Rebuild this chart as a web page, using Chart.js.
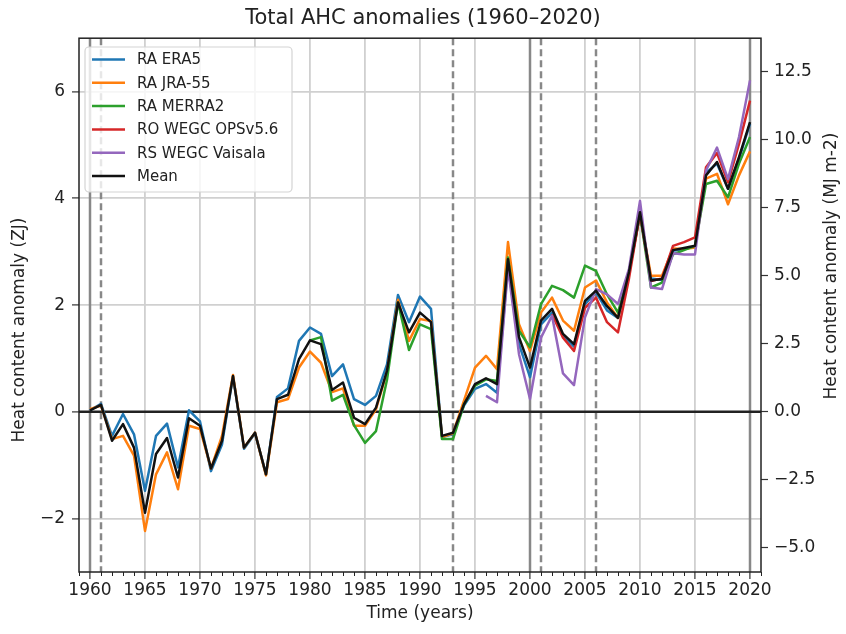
<!DOCTYPE html>
<html lang="en">
<head>
  <meta charset="UTF-8" />
  <title>Total AHC anomalies (1960–2020)</title>
  <script src="https://cdn.jsdelivr.net/npm/chart.js"></script>
  <style>
    html, body { margin: 0; padding: 0; background: #fff; }
    #wrap { width: 846px; height: 634px; }
  </style>
</head>
<body>
<div id="wrap"><canvas id="ahcChart" width="846" height="634"></canvas></div>
<script>
  // yearly anomalies in ZJ
  const years = [1960, 1961, 1962, 1963, 1964, 1965, 1966, 1967, 1968, 1969,
    1970, 1971, 1972, 1973, 1974, 1975, 1976, 1977, 1978, 1979,
    1980, 1981, 1982, 1983, 1984, 1985, 1986, 1987, 1988, 1989,
    1990, 1991, 1992, 1993, 1994, 1995, 1996, 1997, 1998, 1999,
    2000, 2001, 2002, 2003, 2004, 2005, 2006, 2007, 2008, 2009,
    2010, 2011, 2012, 2013, 2014, 2015, 2016, 2017, 2018, 2019,
    2020];

  const era5 = [0.03, 0.15, -0.45, -0.04, -0.42, -1.48, -0.45, -0.22, -1.04, 0.03,
    -0.18, -1.11, -0.61, 0.67, -0.69, -0.40, -1.17, 0.28, 0.44, 1.33,
    1.58, 1.46, 0.67, 0.89, 0.24, 0.13, 0.30, 0.89, 2.19, 1.68,
    2.16, 1.93, -0.47, -0.42, 0.12, 0.43, 0.52, 0.36, 2.75, 1.27,
    0.65, 1.64, 1.86, 1.43, 1.22, 2.02, 2.24, 1.90, 1.76, 2.62,
    3.70, 2.50, 2.47, 3.02, 3.05, 3.10, 4.48, 4.65, 4.18, 4.74,
    5.40];

  const jra55 = [0.05, 0.12, -0.51, -0.45, -0.82, -2.23, -1.17, -0.76, -1.45, -0.26,
    -0.32, -1.06, -0.45, 0.69, -0.67, -0.39, -1.19, 0.18, 0.24, 0.83,
    1.13, 0.92, 0.37, 0.44, -0.26, -0.26, 0.05, 0.75, 2.10, 1.33,
    1.74, 1.70, -0.47, -0.40, 0.21, 0.83, 1.05, 0.80, 3.18, 1.64,
    1.14, 1.86, 2.14, 1.71, 1.52, 2.33, 2.46, 2.05, 1.76, 2.60,
    3.70, 2.55, 2.55, 3.06, 3.05, 3.08, 4.37, 4.46, 3.89, 4.43,
    4.88];

  const merra2 = [null, null, null, null, null, null, null, null, null, null,
    null, null, null, null, null, null, null, null, null, null,
    1.34, 1.40, 0.21, 0.32, -0.25, -0.58, -0.36, 0.60, 2.05, 1.16,
    1.64, 1.55, -0.51, -0.51, 0.14, 0.49, 0.61, 0.58, 2.89, 1.52,
    1.21, 2.02, 2.36, 2.28, 2.14, 2.74, 2.64, 2.20, 1.86, 2.60,
    3.70, 2.33, 2.42, 2.95, 3.03, 3.11, 4.27, 4.33, 4.02, 4.65,
    5.15];

  const roOps = [null, null, null, null, null, null, null, null, null, null,
    null, null, null, null, null, null, null, null, null, null,
    null, null, null, null, null, null, null, null, null, null,
    null, null, null, null, null, null, null, null, null, null,
    null, null, 1.83, 1.39, 1.14, 1.95, 2.14, 1.68, 1.49, 2.50,
    3.72, 2.45, 2.50, 3.11, 3.18, 3.27, 4.58, 4.85, 4.30, 5.02,
    5.83];

  const rsVaisala = [null, null, null, null, null, null, null, null, null, null,
    null, null, null, null, null, null, null, null, null, null,
    null, null, null, null, null, null, null, null, null, null,
    null, null, null, null, null, null, 0.30, 0.18, 2.70, 1.08,
    0.24, 1.39, 1.80, 0.72, 0.50, 1.77, 2.30, 2.20, 2.02, 2.68,
    3.95, 2.33, 2.30, 2.97, 2.95, 2.95, 4.52, 4.95, 4.36, 5.15,
    6.21];

  const mean = [0.03, 0.13, -0.54, -0.23, -0.67, -1.89, -0.79, -0.49, -1.23, -0.12,
    -0.26, -1.06, -0.54, 0.67, -0.67, -0.39, -1.17, 0.24, 0.32, 0.99,
    1.34, 1.27, 0.41, 0.55, -0.11, -0.23, 0.08, 0.77, 2.05, 1.49,
    1.86, 1.68, -0.45, -0.39, 0.14, 0.52, 0.63, 0.52, 2.86, 1.40,
    0.83, 1.71, 1.93, 1.46, 1.27, 2.08, 2.27, 1.98, 1.76, 2.62,
    3.74, 2.46, 2.49, 3.03, 3.07, 3.11, 4.43, 4.68, 4.18, 4.77,
    5.43];

  const xTicks = [1960, 1965, 1970, 1975, 1980, 1985, 1990, 1995, 2000, 2005, 2010, 2015, 2020];
  const yTicks = [-2, 0, 2, 4, 6];
  const y2Ticks = [-5, -2.5, 0, 2.5, 5, 7.5, 10, 12.5];
  const solidYears = [1960, 2000, 2020];
  const dashedYears = [1961, 1993, 2001, 2006];
  const zjToMj = 1.961; // ZJ -> MJ m-2 over the globe

  const FONT = "'DejaVu Sans', sans-serif";
  const minus = v => (v < 0 ? '\u2212' : '');

  function series(label, vals, color, order) {
    return {
      label: label,
      data: years.map((yr, i) => ({ x: yr, y: vals[i] })),
      borderColor: color,
      backgroundColor: color,
      borderWidth: 2.5,
      pointRadius: 0,
      tension: 0,
      borderJoinStyle: 'round',
      spanGaps: false,
      order: order
    };
  }

  // extra bits matplotlib draws: year lines, zero line, frame, minor ticks, legend, right label
  const decor = {
    id: 'decor',
    beforeDatasetsDraw(chart) {
      const { ctx, chartArea: a } = chart;
      const xs = chart.scales.x, ys = chart.scales.y;
      ctx.save();
      ctx.beginPath();
      ctx.rect(a.left, a.top, a.right - a.left, a.bottom - a.top);
      ctx.clip();
      ctx.strokeStyle = '#888';
      ctx.lineWidth = 2.5;
      solidYears.forEach(yr => {
        const px = xs.getPixelForValue(yr);
        ctx.beginPath(); ctx.moveTo(px, a.top); ctx.lineTo(px, a.bottom); ctx.stroke();
      });
      ctx.setLineDash([7, 4]);
      dashedYears.forEach(yr => {
        const px = xs.getPixelForValue(yr);
        ctx.beginPath(); ctx.moveTo(px, a.top); ctx.lineTo(px, a.bottom); ctx.stroke();
      });
      ctx.setLineDash([]);
      const y0 = ys.getPixelForValue(0);
      ctx.strokeStyle = '#222';
      ctx.lineWidth = 2.5;
      ctx.beginPath(); ctx.moveTo(a.left, y0); ctx.lineTo(a.right, y0); ctx.stroke();
      ctx.restore();
    },
    afterDatasetsDraw(chart) {
      const { ctx } = chart;
      const bx = 85, by = 47, bw = 207, bh = 145;
      ctx.save();
      ctx.beginPath();
      ctx.roundRect(bx, by, bw, bh, 4);
      ctx.fillStyle = 'rgba(255,255,255,0.8)';
      ctx.fill();
      ctx.strokeStyle = '#d4d4d4';
      ctx.lineWidth = 1.2;
      ctx.stroke();
      ctx.font = '15px ' + FONT;
      ctx.textBaseline = 'middle';
      chart.data.datasets.forEach((ds, i) => {
        const ry = 59.5 + i * 23.3;
        ctx.strokeStyle = ds.borderColor;
        ctx.lineWidth = 2.5;
        ctx.beginPath(); ctx.moveTo(92, ry); ctx.lineTo(125, ry); ctx.stroke();
        ctx.fillStyle = '#222';
        ctx.fillText(ds.label, 137, ry + 1);
      });
      ctx.restore();
    },
    afterDraw(chart) {
      const { ctx, chartArea: a } = chart;
      const xs = chart.scales.x;
      ctx.save();
      ctx.strokeStyle = '#222';
      ctx.lineWidth = 1.5;
      ctx.strokeRect(a.left, a.top, a.right - a.left, a.bottom - a.top);
      ctx.lineWidth = 1;
      for (let yr = 1959; yr <= 2021; yr++) {
        if (yr % 5 === 0) continue;
        const px = Math.round(xs.getPixelForValue(yr)) + 0.5;
        ctx.beginPath(); ctx.moveTo(px, a.bottom); ctx.lineTo(px, a.bottom + 4); ctx.stroke();
      }
      ctx.fillStyle = '#222';
      ctx.font = '17px ' + FONT;
      ctx.textAlign = 'center';
      ctx.textBaseline = 'middle';
      ctx.translate(832, 266);
      ctx.rotate(-Math.PI / 2);
      ctx.fillText('Heat content anomaly (MJ m-2)', 0, 0);
      ctx.restore();
      ctx.save();
      ctx.fillStyle = '#222';
      ctx.font = '17px ' + FONT;
      ctx.textAlign = 'center';
      ctx.textBaseline = 'middle';
      ctx.translate(20, 330);
      ctx.rotate(-Math.PI / 2);
      ctx.fillText('Heat content anomaly (ZJ)', 0, 0);
      ctx.restore();
    }
  };

  const gridStyle = { color: '#d0d0d0', lineWidth: 1.8, tickColor: '#333', tickLength: 7, tickWidth: 1.2 };

  new Chart(document.getElementById('ahcChart').getContext('2d'), {
    type: 'line',
    data: {
      datasets: [
        series('RA ERA5', era5, '#1f77b4', 5),
        series('RA JRA-55', jra55, '#ff7f0e', 4),
        series('RA MERRA2', merra2, '#2ca02c', 3),
        series('RO WEGC OPSv5.6', roOps, '#d62728', 2),
        series('RS WEGC Vaisala', rsVaisala, '#9467bd', 1),
        series('Mean', mean, '#111111', 0)
      ]
    },
    options: {
      responsive: false,
      animation: false,
      events: [],
      layout: { padding: 0 },
      plugins: {
        legend: { display: false },
        tooltip: { enabled: false },
        title: {
          display: true,
          text: 'Total AHC anomalies (1960\u20132020)',
          color: '#222',
          font: { family: FONT, size: 21, weight: 'normal' },
          padding: { top: 6, bottom: 7 }
        }
      },
      scales: {
        x: {
          type: 'linear',
          min: 1959,
          max: 2021,
          afterBuildTicks: s => { s.ticks = xTicks.map(v => ({ value: v })); },
          afterFit: s => { s.height = 62; },
          ticks: {
            color: '#222',
            font: { family: FONT, size: 17 },
            padding: 1,
            maxRotation: 0,
            autoSkip: false,
            callback: v => String(v)
          },
          grid: gridStyle,
          border: { display: false },
          title: {
            display: true,
            text: 'Time (years)',
            color: '#222',
            font: { family: FONT, size: 17 },
            padding: { top: 0, bottom: 10 }
          }
        },
        y: {
          position: 'left',
          min: -3,
          max: 7,
          afterBuildTicks: s => { s.ticks = yTicks.map(v => ({ value: v })); },
          afterFit: s => { s.width = 79; },
          ticks: {
            color: '#222',
            font: { family: FONT, size: 17 },
            padding: 7,
            callback: v => minus(v) + Math.abs(v)
          },
          grid: gridStyle,
          border: { display: false }
        },
        y2: {
          position: 'right',
          min: -3 * zjToMj,
          max: 7 * zjToMj,
          afterBuildTicks: s => { s.ticks = y2Ticks.map(v => ({ value: v })); },
          afterFit: s => { s.width = 85; },
          ticks: {
            color: '#222',
            font: { family: FONT, size: 17 },
            padding: 6,
            callback: v => minus(v) + Math.abs(v).toFixed(1)
          },
          grid: { drawOnChartArea: false, tickColor: '#333', tickLength: 7, tickWidth: 1.2 },
          border: { display: false }
        }
      }
    },
    plugins: [decor]
  });
</script>
</body>
</html>
